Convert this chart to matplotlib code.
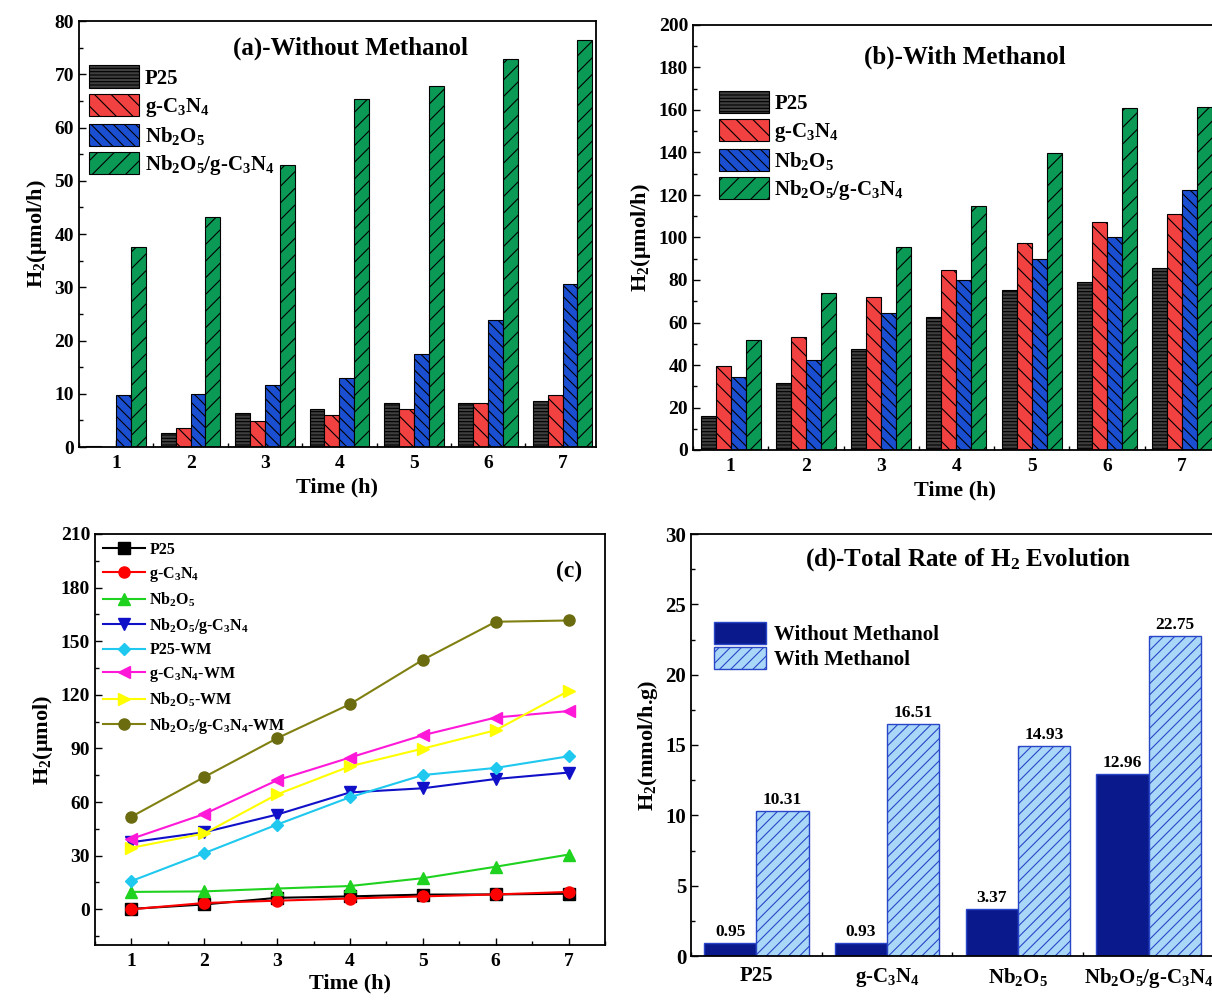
import numpy as np
import matplotlib
matplotlib.use("Agg")
import matplotlib.pyplot as plt
from matplotlib.ticker import MultipleLocator

plt.rcParams["font.family"] = ["Liberation Serif", "DejaVu Serif"]
plt.rcParams["font.weight"] = "bold"
plt.rcParams["axes.labelweight"] = "bold"
plt.rcParams["mathtext.fontset"] = "custom"
plt.rcParams["mathtext.rm"] = "Liberation Serif:bold"
plt.rcParams["mathtext.it"] = "Liberation Serif:bold"
plt.rcParams["mathtext.bf"] = "Liberation Serif:bold"
plt.rcParams["mathtext.default"] = "rm"
plt.rcParams["hatch.linewidth"] = 0.8

# ── data ──────────────────────────────────────────────────────────────────────
times = [1, 2, 3, 4, 5, 6, 7]
samples = ["P25", "g-C$_3$N$_4$", "Nb$_2$O$_5$", "Nb$_2$O$_5$/g-C$_3$N$_4$"]

# H2 rate without methanol (umol/h)
p25_wo = [0.2, 2.7, 6.4, 7.2, 8.2, 8.3, 8.7]
gcn_wo = [0.0, 3.5, 4.8, 6.0, 7.2, 8.3, 9.7]
nb_wo = [9.7, 10.0, 11.6, 13.0, 17.4, 23.8, 30.6]
comp_wo = [37.5, 43.1, 53.0, 65.4, 67.7, 72.9, 76.5]

# H2 rate with methanol (umol/h)
p25_wm = [15.8, 31.4, 47.4, 62.7, 75.1, 79.1, 85.6]
gcn_wm = [39.4, 53.3, 72.2, 84.9, 97.4, 107.3, 110.9]
nb_wm = [34.4, 42.4, 64.3, 80.0, 89.9, 100.2, 122.2]
comp_wm = [51.8, 74.0, 95.7, 114.8, 139.6, 160.9, 161.6]

# total rate (mmol/h.g)
total_wo = [0.95, 0.93, 3.37, 12.96]
total_wm = [10.31, 16.51, 14.93, 22.75]

bar_colors = ["#3f3f3f", "#f24141", "#1b4fd2", "#0b9a55"]
bar_hatches = ["-----", "\\\\", "\\\\\\", "//"]

W, H = 1212, 1000
fig = plt.figure(figsize=(W / 100, H / 100), dpi=100)


def px_axes(left, top, right, bottom):
    return fig.add_axes([left / W, 1 - bottom / H, (right - left) / W, (bottom - top) / H])


def style_axes(ax, fs=14):
    ax.tick_params(which="both", direction="in", top=False, right=False,
                   labelsize=fs, width=1.0)
    ax.tick_params(which="major", length=5)
    ax.tick_params(which="minor", length=3)
    for s in ax.spines.values():
        s.set_linewidth(1.3)


def grouped_bars(ax, series, ymax, ystep):
    x = np.array(times)
    width = 0.2
    for i, (vals, lab) in enumerate(zip(series, samples)):
        ax.bar(x - 0.3 + i * width, vals, width, color=bar_colors[i],
               edgecolor="black", linewidth=0.8, hatch=bar_hatches[i],
               label=lab, zorder=2)
    ax.set_xlim(0.5, 7.45)
    ax.set_ylim(0, ymax)
    ax.set_xticks(times)
    ax.xaxis.set_minor_locator(MultipleLocator(0.5))
    ax.yaxis.set_major_locator(MultipleLocator(ystep))
    ax.yaxis.set_minor_locator(MultipleLocator(ystep / 2))
    ax.set_axisbelow(True)
    style_axes(ax)
    ax.tick_params(axis="x", pad=6)
    ax.set_xlabel("Time (h)", fontsize=16, labelpad=4)
    ax.set_ylabel(r"H$_2$($\mu$mol/h)", fontsize=16)
    ax.legend(loc="upper left", bbox_to_anchor=(0.0, 0.92), frameon=False,
              fontsize=15, handlelength=2.4, handleheight=1.25,
              labelspacing=0.25, handletextpad=0.25, borderaxespad=0.1)


# ── (a) without methanol ──────────────────────────────────────────────────────
ax_a = px_axes(79, 21, 596, 447)
grouped_bars(ax_a, [p25_wo, gcn_wo, nb_wo, comp_wo], 80, 10)
ax_a.text(0.525, 0.935, "(a)-Without Methanol", transform=ax_a.transAxes,
          ha="center", va="center", fontsize=18)

# ── (b) with methanol ─────────────────────────────────────────────────────────
ax_b = px_axes(693, 25, 1216, 450)
grouped_bars(ax_b, [p25_wm, gcn_wm, nb_wm, comp_wm], 200, 20)
ax_b.legend_.set_bbox_to_anchor((0.03, 0.87), transform=ax_b.transAxes)
ax_b.text(0.52, 0.925, "(b)-With Methanol", transform=ax_b.transAxes,
          ha="center", va="center", fontsize=18)

# ── (c) cumulative curves ─────────────────────────────────────────────────────
ax_c = px_axes(95, 534, 605, 945)
line_specs = [
    (p25_wo, "P25", "black", "s"),
    (gcn_wo, "g-C$_3$N$_4$", "#ff0000", "o"),
    (nb_wo, "Nb$_2$O$_5$", "#1fd21f", "^"),
    (comp_wo, "Nb$_2$O$_5$/g-C$_3$N$_4$", "#1010c8", "v"),
    (p25_wm, "P25-WM", "#1ec8ee", "D"),
    (gcn_wm, "g-C$_3$N$_4$-WM", "#ff18d8", "<"),
    (nb_wm, "Nb$_2$O$_5$-WM", "#ffff00", ">"),
    (comp_wm, "Nb$_2$O$_5$/g-C$_3$N$_4$-WM", "#808012", "o"),
]
for vals, lab, col, mk in line_specs:
    ms = 6.5 if mk == "D" else 8
    mcol = "#6b6b10" if lab.endswith("-C$_3$N$_4$-WM") and lab.startswith("Nb") else col
    ax_c.plot(times, vals, color=col, marker=mk, markersize=ms, linewidth=1.5,
              markerfacecolor=mcol, markeredgecolor=mcol, label=lab)
ax_c.set_xlim(0.5, 7.5)
ax_c.set_ylim(-20, 210)
ax_c.set_xticks(times)
ax_c.xaxis.set_minor_locator(MultipleLocator(0.5))
ax_c.yaxis.set_minor_locator(MultipleLocator(15))
ax_c.set_yticks(np.arange(0, 211, 30))
style_axes(ax_c)
ax_c.tick_params(axis="x", pad=6)
ax_c.set_xlabel("Time (h)", fontsize=16, labelpad=2)
ax_c.set_ylabel(r"H$_2$($\mu$mol)", fontsize=16)
ax_c.legend(loc="upper left", frameon=False, fontsize=11.5, handlelength=2.6,
            labelspacing=0.42, handletextpad=0.3, borderaxespad=0.1,
            bbox_to_anchor=(0.0, 1.0))
ax_c.text(0.93, 0.91, "(c)", transform=ax_c.transAxes, ha="center",
          va="center", fontsize=17)

# ── (d) total rate ────────────────────────────────────────────────────────────
ax_d = px_axes(691, 534, 1214, 956)
xd = np.arange(1, len(samples) + 1)
bw = 0.4
b1 = ax_d.bar(xd - bw / 2, total_wo, bw, color="#0a1a8c", edgecolor="#2a46c8",
              linewidth=1.0, label="Without Methanol", zorder=2)
b2 = ax_d.bar(xd + bw / 2, total_wm, bw, color="#a9d7f7", edgecolor="#2a46c8",
              linewidth=1.0, hatch="///", label="With Methanol", zorder=2)
for bars, vals in ((b1, total_wo), (b2, total_wm)):
    ax_d.bar_label(bars, labels=[f"{v:.2f}" for v in vals], padding=2,
                   fontsize=12.5, fontweight="bold")
ax_d.set_xlim(0.5, 4.5)
ax_d.set_ylim(0, 30)
ax_d.set_xticks(xd)
ax_d.set_xticklabels(samples)
ax_d.xaxis.set_minor_locator(MultipleLocator(0.5))
ax_d.yaxis.set_major_locator(MultipleLocator(5))
ax_d.yaxis.set_minor_locator(MultipleLocator(2.5))
ax_d.set_axisbelow(True)
style_axes(ax_d, fs=15)
ax_d.tick_params(axis="x", labelsize=15, pad=7)
ax_d.set_ylabel(r"H$_2$(mmol/h.g)", fontsize=16)
ax_d.legend(loc="upper left", bbox_to_anchor=(0.02, 0.82), frameon=False,
            fontsize=15, handlelength=2.5, handleheight=1.2,
            labelspacing=0.1, handletextpad=0.4, borderaxespad=0.2)
ax_d.text(0.53, 0.94, "(d)-Total Rate of H$_2$ Evolution",
          transform=ax_d.transAxes, ha="center", va="center", fontsize=18)

fig.savefig("out.png", dpi=100, facecolor="white")
